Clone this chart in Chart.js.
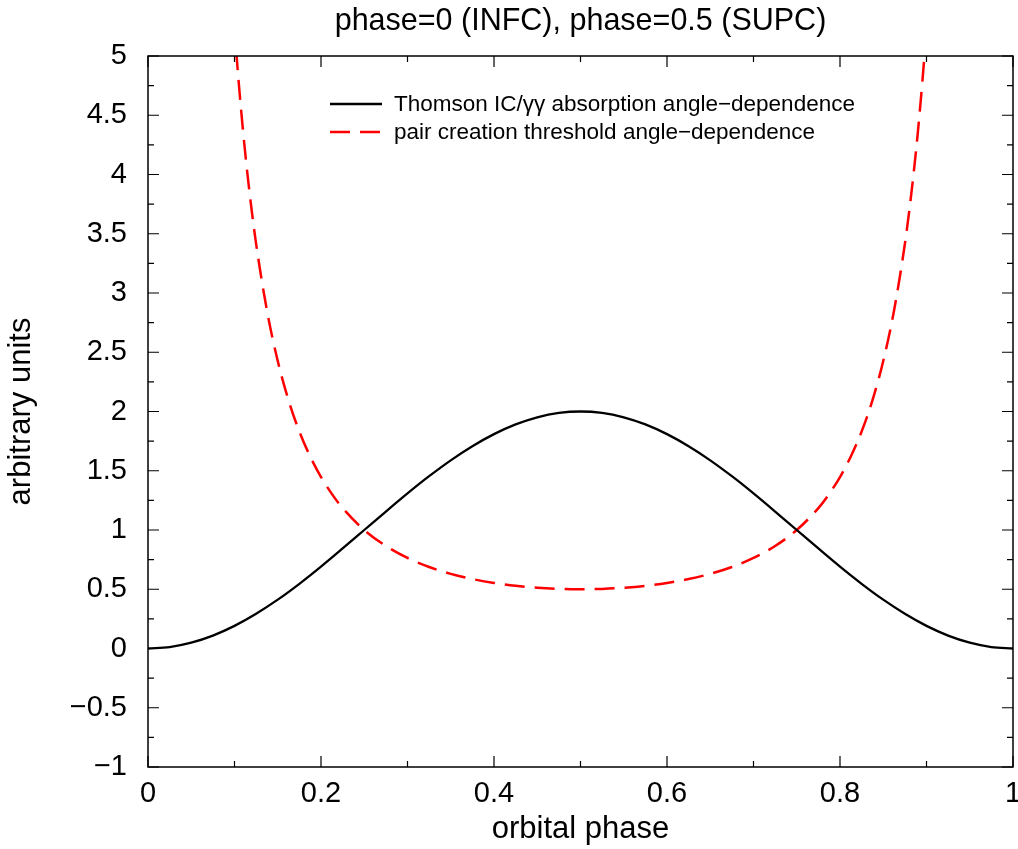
<!DOCTYPE html>
<html>
<head>
<meta charset="utf-8">
<script src="https://cdn.jsdelivr.net/npm/chart.js@4.4.0/dist/chart.umd.min.js"></script>
<style>
  html, body { margin: 0; padding: 0; background: #fff; }
  #wrap { width: 1018px; height: 849px; }
</style>
</head>
<body>
<div id="wrap"><canvas id="myChart"></canvas></div>
<script>
	// values
	var phaseBlack = [0, 0.025, 0.05, 0.075, 0.1, 0.125, 0.15, 0.175, 0.2, 0.225, 0.25, 0.275, 0.3, 0.325, 0.35, 0.375, 0.4, 0.425, 0.45, 0.475, 0.5,
		0.525, 0.55, 0.575, 0.6, 0.625, 0.65, 0.675, 0.7, 0.725, 0.75, 0.775, 0.8, 0.825, 0.85, 0.875, 0.9, 0.925, 0.95, 0.975, 1];
	var thomsonValues = [0, 0.012, 0.049, 0.109, 0.191, 0.293, 0.412, 0.546, 0.691, 0.844, 1, 1.156, 1.309, 1.454, 1.588, 1.707, 1.809, 1.891, 1.951, 1.988, 2,
		1.988, 1.951, 1.891, 1.809, 1.707, 1.588, 1.454, 1.309, 1.156, 1, 0.844, 0.691, 0.546, 0.412, 0.293, 0.191, 0.109, 0.049, 0.012, 0];

	var phaseRed = [0.08, 0.09, 0.095, 0.1, 0.105, 0.11, 0.115, 0.12, 0.125, 0.1375, 0.15, 0.1625, 0.175, 0.1875, 0.2, 0.2125, 0.225, 0.25, 0.275, 0.3, 0.325, 0.35, 0.375, 0.4, 0.425, 0.45, 0.475, 0.5,
		0.525, 0.55, 0.575, 0.6, 0.625, 0.65, 0.675, 0.7, 0.725, 0.75, 0.775, 0.7875, 0.8, 0.8125, 0.825, 0.8375, 0.85, 0.8625, 0.875, 0.88, 0.885, 0.89, 0.895, 0.9, 0.905, 0.91, 0.92];
	var pairValues = [8.085, 6.424, 5.783, 5.236, 4.766, 4.357, 4.002, 3.690, 3.414, 2.853, 2.426, 2.094, 1.831, 1.620, 1.447, 1.305, 1.185, 1, 0.865, 0.764, 0.688, 0.630, 0.586, 0.553, 0.529, 0.513, 0.503, 0.5,
		0.503, 0.513, 0.529, 0.553, 0.586, 0.630, 0.688, 0.764, 0.865, 1, 1.185, 1.305, 1.447, 1.620, 1.831, 2.094, 2.426, 2.853, 3.414, 3.690, 4.002, 4.357, 4.766, 5.236, 5.783, 6.424, 8.085];

	var seriesLabels = ["Thomson IC/\u03b3\u03b3 absorption angle\u2212dependence", "pair creation threshold angle\u2212dependence"];
	var titleText = "phase=0 (INFC), phase=0.5 (SUPC)";

	var xMajor = [0, 0.2, 0.4, 0.6, 0.8, 1];
	var xMinor = [0.1, 0.3, 0.5, 0.7, 0.9];
	var yMajor = [-1, -0.5, 0, 0.5, 1, 1.5, 2, 2.5, 3, 3.5, 4, 4.5, 5];
	var yMinor = [-0.75, -0.25, 0.25, 0.75, 1.25, 1.75, 2.25, 2.75, 3.25, 3.75, 4.25, 4.75];

	var FONT = "'Liberation Sans', Arial, Helvetica, sans-serif";

	function toPoints(xs, ys) {
		var out = [];
		for (var i = 0; i < xs.length; i++) out.push({x: xs[i], y: ys[i]});
		return out;
	}

	function fmt(v) {
		var s = String(Math.round(v * 100) / 100);
		return s.replace('-', '\u2212');
	}

	// frame, inward ticks on all 4 sides, title and inset legend
	var framePlugin = {
		id: 'frame',
		afterDatasetsDraw: function(chart) {
			var ctx = chart.ctx, a = chart.chartArea;
			var xs = chart.scales.x, ys = chart.scales.y;
			ctx.save();
			ctx.strokeStyle = '#000';
			ctx.lineWidth = 1.5;
			ctx.strokeRect(a.left, a.top, a.right - a.left, a.bottom - a.top);
			ctx.lineWidth = 1.2;
			ctx.beginPath();
			function xt(list, len) {
				list.forEach(function(v) {
					var px = xs.getPixelForValue(v);
					ctx.moveTo(px, a.bottom); ctx.lineTo(px, a.bottom - len);
					ctx.moveTo(px, a.top); ctx.lineTo(px, a.top + len);
				});
			}
			function yt(list, len) {
				list.forEach(function(v) {
					var py = ys.getPixelForValue(v);
					ctx.moveTo(a.left, py); ctx.lineTo(a.left + len, py);
					ctx.moveTo(a.right, py); ctx.lineTo(a.right - len, py);
				});
			}
			xt(xMajor, 11); xt(xMinor, 6);
			yt(yMajor, 11); yt(yMinor, 6);
			ctx.stroke();

			// legend
			var ds = chart.data.datasets;
			ctx.font = '22.5px ' + FONT;
			ctx.textBaseline = 'middle';
			ctx.textAlign = 'left';
			for (var i = 0; i < ds.length; i++) {
				var yy = 104 + i * 28;
				ctx.beginPath();
				ctx.strokeStyle = ds[i].borderColor;
				ctx.lineWidth = ds[i].borderWidth;
				ctx.setLineDash(ds[i].borderDash || []);
				ctx.moveTo(330, yy); ctx.lineTo(382, yy);
				ctx.stroke();
				ctx.setLineDash([]);
				ctx.fillStyle = '#000';
				ctx.fillText(ds[i].label, 394, yy + 1);
			}

			// title
			ctx.font = '30.5px ' + FONT;
			ctx.textAlign = 'center';
			ctx.fillText(titleText, (a.left + a.right) / 2, 22);
			ctx.restore();
		}
	};

	var ctx = document.getElementById("myChart").getContext('2d');
	var myChart = new Chart(ctx, {
		type: 'line',
		data: {
			datasets: [{
				label: seriesLabels[0],
				data: toPoints(phaseBlack, thomsonValues),
				borderColor: '#000000',
				borderWidth: 2.3,
				pointRadius: 0,
				fill: false,
				cubicInterpolationMode: 'monotone'
			}, {
				label: seriesLabels[1],
				data: toPoints(phaseRed, pairValues),
				borderColor: '#ff0000',
				borderWidth: 2.5,
				borderDash: [20, 10],
				pointRadius: 0,
				fill: false,
				cubicInterpolationMode: 'monotone'
			}]
		},
		options: {
			responsive: true,
			maintainAspectRatio: false,
			animation: false,
			layout: { padding: { top: 56, right: 5, left: 0, bottom: 0 } },
			plugins: {
				legend: { display: false },
				tooltip: { enabled: false },
				title: { display: false }
			},
			scales: {
				x: {
					type: 'linear',
					min: 0, max: 1,
					grid: { display: false, drawTicks: false },
					border: { display: false },
					afterFit: function(scale) {
						scale.height = 82;
						scale.paddingLeft = 0;
						scale.paddingRight = 0;
					},
					afterBuildTicks: function(scale) {
						scale.ticks = xMajor.map(function(v) { return {value: v}; });
					},
					ticks: {
						color: '#000',
						padding: 10,
						maxRotation: 0,
						font: { family: FONT, size: 29 },
						callback: function(v) { return fmt(v); }
					},
					title: {
						display: true,
						text: 'orbital phase',
						color: '#000',
						font: { family: FONT, size: 31 },
						padding: { top: 0, bottom: 1 }
					}
				},
				y: {
					type: 'linear',
					min: -1, max: 5,
					grid: { display: false, drawTicks: false },
					border: { display: false },
					afterFit: function(scale) {
						scale.width = 148;
						scale.paddingTop = 0;
						scale.paddingBottom = 0;
					},
					afterBuildTicks: function(scale) {
						scale.ticks = yMajor.map(function(v) { return {value: v}; });
					},
					ticks: {
						color: '#000',
						padding: 21,
						font: { family: FONT, size: 29 },
						callback: function(v) { return fmt(v); }
					},
					title: {
						display: true,
						text: 'arbitrary units',
						color: '#000',
						font: { family: FONT, size: 31 },
						padding: { top: 3, bottom: 0 }
					}
				}
			}
		},
		plugins: [framePlugin]
	});
</script>
</body>
</html>
